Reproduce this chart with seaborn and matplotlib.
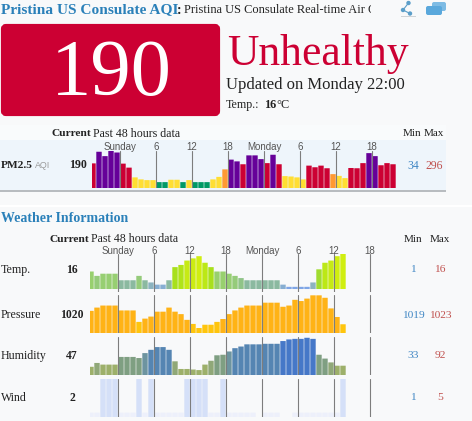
import matplotlib
matplotlib.use('Agg')
import matplotlib.pyplot as plt
from matplotlib.patches import FancyBboxPatch, Rectangle
import seaborn as sns

# AQI per hour
pm25 = [197, 290, 255, 296, 284, 195, 163, 85, 69, 63, 63, 47, 47, 66, 66, 47, 63, 47, 47, 47, 69, 89, 149, 227, 213, 190,
        261, 261, 231, 199, 266, 190, 95, 92, 85, 69, 179, 166, 179, 158, 111, 97, 79, 160, 158, 199, 279, 255, 182, 199, 190]
temp = [8, 6, 7, 7, 7, 4, 4, 4, 6, 4, 3, 2, 2, 4, 10, 11, 13, 14, 15, 12, 10, 8, 8, 7, 6, 5,
        4, 4, 4, 4, 4, 4, 2, 1, 1, 1, 1, 3, 9, 12, 13, 15, 16]
pressure = [1021.1, 1021.5, 1021.75, 1021.75, 1021.75, 1021.15, 1021.15, 1021.15, 1019.75, 1020.15, 1020.4,
            1021.0, 1021.0, 1021.5, 1021.0, 1020.7, 1020.0, 1019.5, 1019.0, 1019.4, 1019.4, 1019.75, 1020.1,
            1020.7, 1021.15, 1021.5, 1021.75, 1021.75, 1021.75, 1022.1, 1022.1, 1022.1, 1021.6, 1021.75,
            1022.45, 1022.3, 1022.6, 1023.0, 1023.0, 1022.7, 1021.4, 1020.35, 1019.46]
humidity = [39, 46, 43, 43, 43, 57, 57, 57, 55, 64, 70, 75, 75, 70, 49, 35, 35, 34, 33, 43, 50, 60, 61, 67, 73, 76,
            80, 80, 80, 81, 81, 81, 86, 89, 90, 90, 92, 90, 61, 54, 47, 41, 41]
wind = [1, 1, 2, 2, 2, 1, 1, 1, 2, 1, 2, 1, 1, 1, 1, 1, 2, 2, 2, 2, 1, 1, 2, 1, 1, 1,
        1, 1, 0, 1, 1, 1, 0, 0, 1, 1, 1, 1, 1, 1, 1, 1, 2]

tick_bars = [5, 11, 17, 23, 29, 35, 41, 47]
tick_labels = ['Sunday', '6', '12', '18', 'Monday', '6', '12', '18']

BG = '#f8f9fa'
SERIF = 'Liberation Serif'
BLUE = '#2a80b9'
BLUE_NUM = '#3f86c4'
RED_NUM = '#c0504d'
RED = '#cc0033'


def aqi_cat(v):
    if v < 50:
        return 'good'
    if v < 100:
        return 'moderate'
    if v < 150:
        return 'sensitive'
    if v < 200:
        return 'unhealthy'
    return 'very'


def hum_cat(v):
    for lim, name in [(45, 'a'), (52, 'b'), (62, 'c'), (68, 'd'), (84, 'e')]:
        if v < lim:
            return name
    return 'f'


aqi_colors = {'good': '#009966', 'moderate': '#ffde33', 'sensitive': '#ff9933', 'unhealthy': '#cc0033', 'very': '#660099'}
temp_colors = {'1': '#7fa6e6', '2': '#87aed2', '3': '#8cb3c0', '4': '#8bb9a0', '5': '#90c488', '6': '#95cb7a', '7': '#97cf72',
               '8': '#98d06e', '9': '#a0dc30', '10': '#a8e01c', '11': '#b0e418', '12': '#bce816', '13': '#c6ea14',
               '14': '#ccec12', '15': '#d0ee10', '16': '#d0ee10'}
hum_colors = {'a': '#9db06a', 'b': '#90a878', 'c': '#7f9f82', 'd': '#6d94a0', 'e': '#5585b2', 'f': '#4678c8'}

sns.set_style('white')
fig = plt.figure(figsize=(4.72, 4.21), dpi=100, facecolor=BG)

# page layer in pixel coordinates
page = fig.add_axes([0, 0, 1, 1], zorder=0)
page.set_xlim(0, 472)
page.set_ylim(421, 0)
page.axis('off')

page.add_patch(Rectangle((0, 125), 446, 65, color='#f9fbfc', lw=0))
page.add_patch(Rectangle((0, 140), 446, 50, color='#eef5fb', lw=0))
page.add_patch(Rectangle((0, 190), 446, 1.5, color='#b8bcc0', lw=0))
page.add_patch(Rectangle((0, 205), 472, 1.5, color='#ffffff', lw=0))
page.add_patch(FancyBboxPatch((3, 26), 215, 88, boxstyle='round,pad=0,rounding_size=3', fc=RED, ec=RED, lw=3))


def txt(x, y, s, size=7.6, color='#222222', weight='normal', ha='left', family=SERIF):
    return page.text(x, y, s, fontsize=size, color=color, fontweight=weight, ha=ha, va='center', family=family)


txt(1, 9.5, 'Pristina US Consulate AQI', 11.1, BLUE, 'bold')
txt(177, 10, ':', 10, '#222222', 'bold')
sub = txt(184, 10.5, 'Pristina US Consulate Real-time Air Quality', 8.9)
sub.set_clip_on(True)
sub.set_clip_path(Rectangle((0, 0), 371, 30, transform=page.transData))

# icons
for cx, cy, r in [(408.5, 3, 2.2), (403, 10, 2.2), (410, 13.5, 2.2)]:
    page.add_patch(plt.Circle((cx, cy), r, color='#5b9ec9', lw=0))
page.plot([408.5, 403, 410], [3, 10, 13.5], color='#5b9ec9', lw=0.8)
page.add_patch(Rectangle((401, 16), 15, 1, color='#cfd3d6', lw=0))
page.add_patch(FancyBboxPatch((432, 2), 14, 9, boxstyle='round,pad=0,rounding_size=2', fc='#7dbbe4', ec='none'))
page.add_patch(FancyBboxPatch((426, 6), 16, 9, boxstyle='round,pad=0,rounding_size=2', fc='#5aa8dc', ec='none'))

txt(111, 76, '190', 58, 'white', ha='center')
txt(227, 54, 'Unhealthy', 31.4, RED)
txt(226, 85, 'Updated on Monday 22:00', 12, '#222222')
txt(226, 105, 'Temp.:', 8.6)
txt(264, 105, '16', 8.8, weight='bold')
txt(276, 105, '°C', 8.8)

# section headers
txt(52, 134, 'Current', 8.2, weight='bold')
txt(93, 134, 'Past 48 hours data', 8.6)
txt(403, 134, 'Min', 8)
txt(424, 134, 'Max', 8)
txt(1, 165, 'PM2.5', 8.2, weight='bold')
txt(35, 165, 'AQI', 6.4, '#9a9a9a', family='Liberation Sans')
txt(87, 165, '190', 8.6, weight='bold', ha='right')
txt(413, 166, '34', 8.4, BLUE_NUM, ha='center')
txt(434, 166, '296', 8.4, RED_NUM, ha='center')

txt(1, 219, 'Weather Information', 10, BLUE, 'bold')
txt(50, 239, 'Current', 8.2, weight='bold')
txt(91, 239, 'Past 48 hours data', 8.6)
txt(404, 239, 'Min', 8)
txt(430, 239, 'Max', 8)

rows = [('Temp.', '16', 270, '1', '16'), ('Pressure', '1020', 315, '1019', '1023'),
        ('Humidity', '47', 356, '33', '92'), ('Wind', '2', 398, '1', '5')]
for name, cur, y, lo, hi in rows:
    txt(1, y, name, 8.6)
    txt(72, y, cur, 8.4, weight='bold', ha='center')
    txt(413, y, lo, 8.2, BLUE_NUM, ha='center')
    txt(440, y, hi, 8.2, RED_NUM, ha='center')


def row_axes(x0, x1, y0, y1, edge):
    ax = fig.add_axes([x0 / 472, 1 - y1 / 421, (x1 - x0) / 472, (y1 - y0) / 421], zorder=2)
    ax.patch.set_alpha(0)
    ax.set_meta = (x0, x1, edge)
    return ax


def draw_row(ax, values, cats, palette, ylim):
    x0, x1, edge = ax.set_meta
    sns.barplot(x=list(range(len(values))), y=values, hue=cats, palette=palette, dodge=False, legend=False,
                width=0.9, saturation=1, linewidth=0, ax=ax)
    # keep the thin gap between bars, snapping closes it
    for bar in ax.patches:
        bar.set_snap(False)
    ax.set_xlim((x0 - edge - 3) / 6, (x1 - edge - 3) / 6)
    ax.set_ylim(*ylim)
    ax.axis('off')
    for k in tick_bars:
        ax.axvline(k - 0.5, color='#7d7d7d', lw=0.8, zorder=5)


def tick_text(ax, y):
    x0, x1, edge = ax.set_meta
    for k, lab in zip(tick_bars, tick_labels):
        page.text(edge + 6 * k, y, lab, fontsize=7, color='#555555', ha='center', va='center', family='Liberation Sans')


ax_pm = row_axes(92, 396, 151, 188, 90)
draw_row(ax_pm, pm25, [aqi_cat(v) for v in pm25], aqi_colors, (0, 296))
tick_text(ax_pm, 147)

ax_t = row_axes(90, 373, 254, 292, 88)
draw_row(ax_t, temp, [str(v) for v in temp], temp_colors, (-1.364, 16))
tick_text(ax_t, 251)

ax_p = row_axes(90, 373, 295, 333, 88)
draw_row(ax_p, pressure, ['low' if v < 1020 else 'high' for v in pressure], {'low': '#ffc50d', 'high': '#ffb316'}, (1018.39, 1023.04))

ax_h = row_axes(90, 373, 337, 375, 88)
draw_row(ax_h, humidity, [hum_cat(v) for v in humidity], hum_colors, (24, 93.4))

ax_w = row_axes(90, 373, 379, 417, 88)
draw_row(ax_w, wind, ['strong' if v > 1 else 'calm' for v in wind], {'strong': '#d5e0f8', 'calm': '#edf0fb'}, (0.87, 2))

fig.savefig('out.png', dpi=100, facecolor=BG)
